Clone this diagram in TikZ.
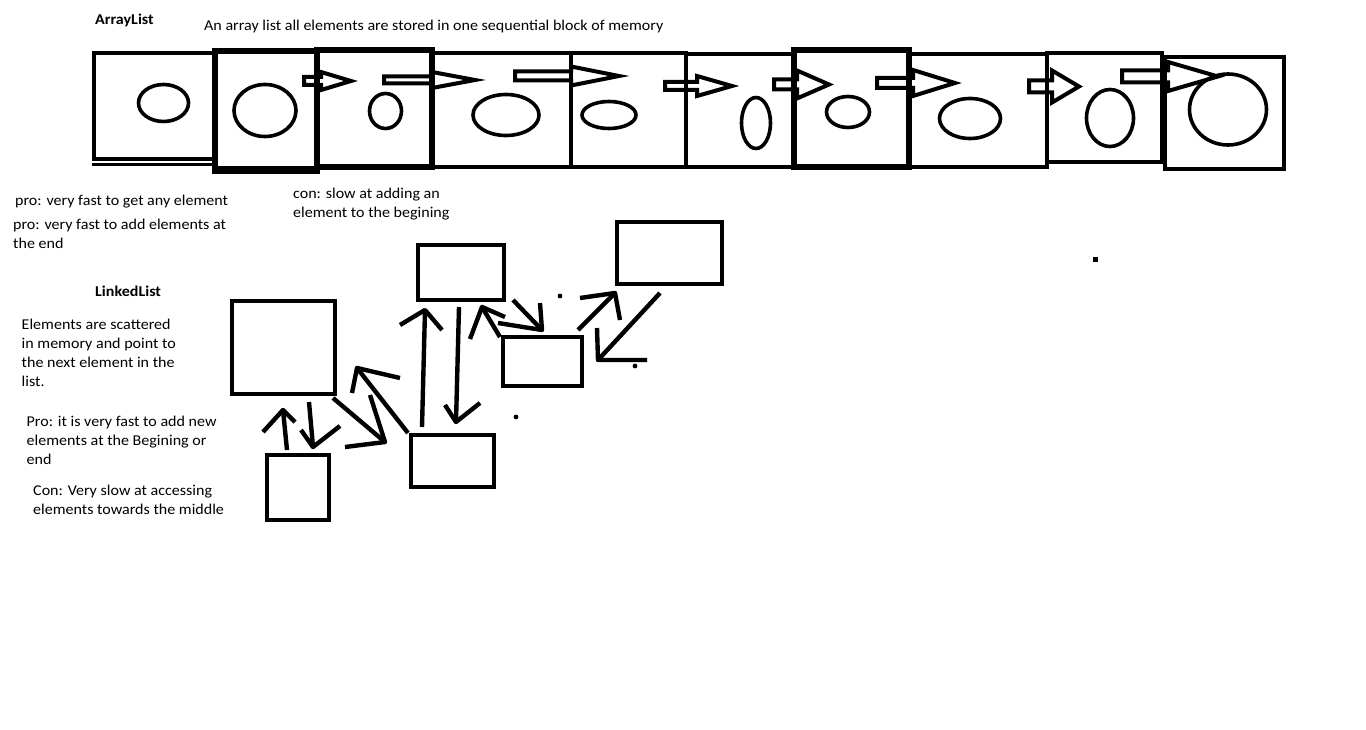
\documentclass[tikz,border=0pt]{standalone}
\usepackage{fontspec}
\setmainfont{Carlito}[FakeStretch=1.07]
\usetikzlibrary{fit}
\newcommand\blockarr[6]{\draw[barrow] (#2,#1-#5) -- (#3,#1-#5) -- (#3,#1-#6) -- (#4,#1) -- (#3,#1+#6) -- (#3,#1+#5) -- (#2,#1+#5) -- cycle;}
\begin{document}
\begin{tikzpicture}[x=1pt,y=-1pt,
  cell/.style={draw, line width=4.6pt, inner sep=0pt, rectangle},
  blob/.style={line width=3.6pt},
  barrow/.style={line width=4pt, line join=miter},
  llbox/.style={draw, line width=4.6pt, inner sep=0pt, rectangle},
  link/.style={line width=4.4pt, line join=round},
  txt/.style={inner sep=0pt, anchor=base west, font=\fontsize{15}{19}\selectfont},
  btxt/.style={txt, font=\fontsize{15}{19}\selectfont\bfseries}]
\useasboundingbox[fill=white] (0,0) rectangle (1366,730);

% ---------- texts ----------
\node[btxt] (tArr) at (95,24.5) {ArrayList};
\node[txt] (tTop) at (204,30.5) {An array list all elements are stored in one sequential block of memory};
\node[txt] (tP1) at (15,206) {pro: very fast to get any element};
\node[txt] (tP2a) at (13,230) {pro: very fast to add elements at};
\node[txt] (tP2b) at (13,249) {the end};
\node[txt] (tC1a) at (293,199) {con: slow at adding an};
\node[txt] (tC1b) at (293,218) {element to the begining};
\node[btxt] (tLL) at (95,296) {LinkedList};
\node[txt] (tE1) at (21.5,329) {Elements are scattered};
\node[txt] (tE2) at (21.5,348) {in memory and point to};
\node[txt] (tE3) at (21.5,367) {the next element in the};
\node[txt] (tE4) at (21.5,386) {list.};
\node[txt] (tQ1) at (26.5,426.5) {Pro: it is very fast to add new};
\node[txt] (tQ2) at (26.5,445.5) {elements at the Begining or};
\node[txt] (tQ3) at (26.5,464.5) {end};
\node[txt] (tR1) at (33,495.5) {Con: Very slow at accessing};
\node[txt] (tR2) at (33,514.5) {elements towards the middle};

% ---------- array cells ----------
\node[cell, fit={(94,53) (215,159)}] (c1) {};
\draw[line width=2.8pt] (92,164.7) -- (215,164.7);
\node[cell, line width=6pt, fit={(215,51) (317,169)}] (c2) {};
\draw[line width=8pt] (212,170) -- (320,170);
\node[cell, line width=5.4pt, fit={(317,50) (432,167)}] (c3) {};
\node[cell, fit={(432,53) (571,167)}] (c4) {};
\node[cell, fit={(571,53) (686,167)}] (c5) {};
\node[cell, fit={(686,54) (794,167)}] (c6) {};
\node[cell, line width=5.4pt, fit={(794,50) (909,167)}] (c7) {};
\node[cell, fit={(909,54) (1047,167)}] (c8) {};
\node[cell, fit={(1047,53) (1162,162)}] (c9) {};
\node[cell, fit={(1165,57) (1284,169)}] (c10) {};

% ---------- ellipses ----------
\draw[blob] (163.5,103) ellipse [x radius=25, y radius=18.5];
\draw[blob] (265,110.5) ellipse [x radius=31, y radius=26];
\draw[blob] (385.5,111) ellipse [x radius=16, y radius=17.5];
\draw[blob] (506,115) ellipse [x radius=33, y radius=20.5];
\draw[blob] (609,115) ellipse [x radius=27, y radius=13.5];
\draw[blob] (756,123) ellipse [x radius=14.5, y radius=25.5];
\draw[blob] (848,112) ellipse [x radius=21.5, y radius=15.5];
\draw[blob] (970,118.5) ellipse [x radius=30.5, y radius=20];
\draw[blob] (1110,118) ellipse [x radius=23.5, y radius=28.5];
\draw[blob] (1228,109.5) ellipse [x radius=38.5, y radius=35.5];

% ---------- block arrows ----------
\blockarr{81}{304}{321}{351}{4}{9}
\blockarr{80}{384}{432}{475}{3.5}{8}
\blockarr{76}{515}{571}{619}{4.5}{9.5}
\blockarr{86}{665}{697}{732}{4}{10}
\blockarr{84.5}{774}{797}{829}{5}{14}
\blockarr{83}{877}{913}{955}{5}{13}
\blockarr{86.5}{1029}{1052}{1079}{6}{16}
\blockarr{76.5}{1122}{1168}{1218}{6}{14.5}

% ---------- linked list boxes ----------
\node[llbox, fit={(232,301) (335,394)}] (A) {};
\node[llbox, fit={(267,455) (329,520)}] (B) {};
\node[llbox, fit={(411,435) (494,487)}] (C) {};
\node[llbox, fit={(418,245) (504,300)}] (D) {};
\node[llbox, fit={(503,337) (582,386)}] (E) {};
\node[llbox, fit={(617,222) (722,284)}] (F) {};

% ---------- linked list arrows ----------
% B -> A
\coordinate (a1s) at (287,450); \coordinate (a1t) at (283,410);
\draw[link] (a1s) -- (a1t);
\draw[link] (263,432) -- (a1t) -- (295,422);
% A -> B
\coordinate (a2s) at (309,402); \coordinate (a2t) at (313,447);
\draw[link] (a2s) -- (a2t);
\draw[link] (301,430) -- (a2t) -- (340,426);
% A -> C side
\coordinate (a3s) at (333,398); \coordinate (a3t) at (385,442);
\draw[link] (a3s) -- (a3t);
\draw[link] (370,395) -- (a3t) -- (345,447);
% C -> A
\coordinate (a4s) at (408,433); \coordinate (a4t) at (357,368);
\draw[link] (a4s) -- (a4t);
\draw[link] (352,393) -- (a4t) -- (400,378);
% C -> D
\coordinate (a5s) at (422,427); \coordinate (a5t) at (425,310);
\draw[link] (a5s) -- (a5t);
\draw[link] (400,325) -- (a5t) -- (442,330);
% D -> C
\coordinate (a6s) at (459,307); \coordinate (a6t) at (456,422);
\draw[link] (a6s) -- (a6t);
\draw[link] (445,405) -- (a6t) -- (480,403);
% E -> D
\coordinate (a7s) at (500,337); \coordinate (a7t) at (482,307);
\draw[link] (a7s) -- (a7t);
\draw[link] (470,339) -- (a7t) -- (505,317);
% D -> E
\coordinate (a8s) at (513,300); \coordinate (a8t) at (542,330);
\draw[link] (a8s) -- (a8t);
\draw[link] (540,303) -- (a8t) -- (498,323);
% E -> F
\coordinate (a9s) at (578,330); \coordinate (a9t) at (615,293);
\draw[link] (a9s) -- (a9t);
\draw[link] (580,298) -- (a9t) -- (620,320);
% F -> E
\coordinate (a10s) at (660,293); \coordinate (a10t) at (598,360);
\draw[link] (a10s) -- (a10t);
\draw[link] (597,328) -- (a10t) -- (647,360);

% ---------- stray dots ----------
\fill (560,296) circle [radius=2.4];
\fill (635,366) circle [radius=2.4];
\fill (516,417) circle [radius=2.4];
\fill (1093,257) rectangle (1098,262);
\end{tikzpicture}
\end{document}
